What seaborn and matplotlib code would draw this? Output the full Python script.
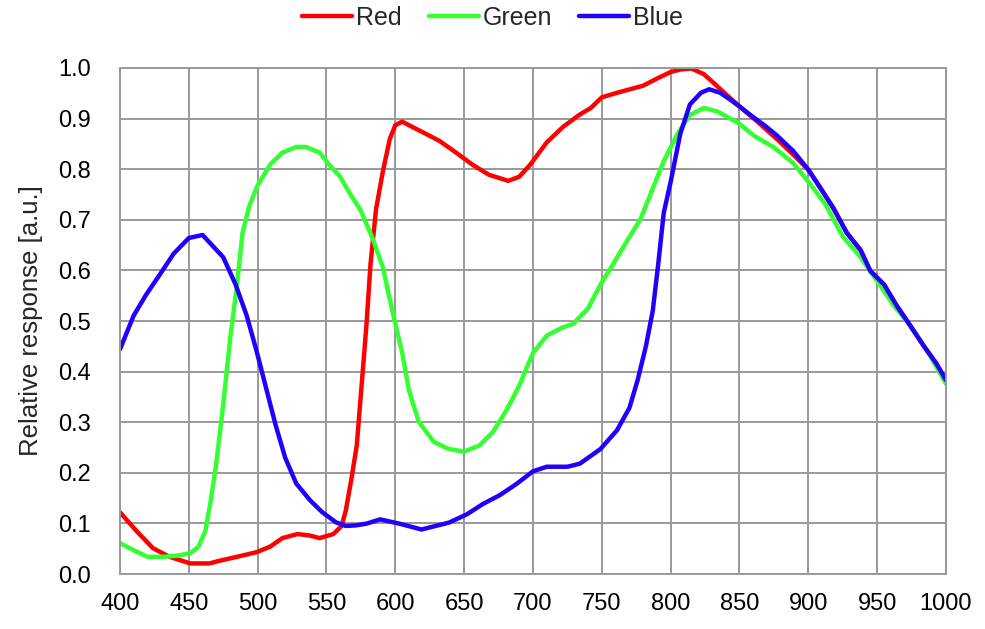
import matplotlib
matplotlib.use("Agg")
import matplotlib.pyplot as plt
import seaborn as sns
import pandas as pd

red_wl = [400,412,424,436,451,465,472,485,499,509,518,529,538,545,555,561,564,568,572,575,579,582,586,591,596,600,605,612,620,632,644,656,668,682,690,698,710,722,734,742,750,761,780,790,800,807,815,824,831,839,850,863,877,889,900,909,918,928,938,945,955,964,974,984,993,1000]
red_val = [0.122,0.085,0.051,0.034,0.021,0.021,0.026,0.034,0.043,0.054,0.071,0.079,0.076,0.071,0.079,0.095,0.125,0.186,0.254,0.355,0.491,0.613,0.721,0.796,0.860,0.887,0.894,0.884,0.873,0.856,0.833,0.809,0.789,0.777,0.785,0.809,0.853,0.884,0.908,0.921,0.942,0.951,0.965,0.979,0.992,0.997,0.999,0.988,0.971,0.951,0.924,0.894,0.860,0.829,0.799,0.762,0.724,0.674,0.640,0.599,0.572,0.531,0.491,0.450,0.416,0.383]

green_wl = [400,410,420,431,441,451,457,462,466,470,475,480,485,489,494,500,509,518,528,535,545,552,560,567,575,584,591,598,605,610,617,628,639,650,661,671,681,690,700,710,721,729,740,749,759,768,778,785,795,805,814,824,834,850,860,875,889,901,913,925,938,950,962,974,986,1000]
green_val = [0.061,0.047,0.034,0.034,0.036,0.041,0.054,0.085,0.146,0.220,0.335,0.464,0.572,0.674,0.728,0.768,0.809,0.833,0.844,0.844,0.833,0.809,0.785,0.752,0.718,0.660,0.606,0.518,0.437,0.362,0.301,0.261,0.247,0.242,0.254,0.281,0.325,0.372,0.437,0.471,0.487,0.494,0.525,0.572,0.616,0.657,0.701,0.748,0.816,0.870,0.907,0.921,0.914,0.890,0.867,0.843,0.812,0.772,0.728,0.667,0.626,0.579,0.531,0.491,0.443,0.376]

blue_wl = [400,410,419,429,439,450,460,475,484,492,499,506,513,520,528,538,547,557,564,571,579,589,603,619,639,652,664,676,688,700,710,725,734,749,761,770,776,782,787,791,795,800,807,814,822,828,836,843,850,858,868,877,889,900,909,918,928,938,945,955,964,974,984,993,1000]
blue_val = [0.444,0.511,0.552,0.592,0.633,0.664,0.670,0.626,0.572,0.511,0.443,0.369,0.295,0.230,0.179,0.146,0.122,0.102,0.095,0.096,0.0995,0.108,0.0995,0.088,0.1016,0.118,0.139,0.156,0.178,0.203,0.212,0.212,0.218,0.247,0.284,0.328,0.383,0.450,0.520,0.613,0.714,0.775,0.870,0.928,0.951,0.958,0.951,0.938,0.924,0.907,0.887,0.867,0.836,0.799,0.762,0.724,0.674,0.640,0.599,0.572,0.531,0.491,0.450,0.416,0.383]

series_names = ["Red", "Green", "Blue"]
colors = {"Red": "#ff0000", "Green": "#33ff33", "Blue": "#1f00ff"}

x_ticks = list(range(400, 1001, 50))
y_ticks = [0.0, 0.1, 0.2, 0.3, 0.4, 0.5, 0.6, 0.7, 0.8, 0.9, 1.0]

df = pd.concat([
    pd.DataFrame({"wl": red_wl, "val": red_val, "ch": "Red"}),
    pd.DataFrame({"wl": green_wl, "val": green_val, "ch": "Green"}),
    pd.DataFrame({"wl": blue_wl, "val": blue_val, "ch": "Blue"}),
], ignore_index=True)

sns.set_theme(style="white")
plt.rcParams["font.family"] = ["Liberation Sans", "DejaVu Sans"]

fig, ax = plt.subplots(figsize=(9.85, 6.29), dpi=100)
fig.subplots_adjust(left=0.1218, right=0.9604, top=0.8919, bottom=0.0874)

sns.lineplot(data=df, x="wl", y="val", hue="ch", hue_order=series_names,
             palette=colors, linewidth=3.2, sort=False, estimator=None,
             ax=ax, legend=True)

ax.set_xlim(400, 1000)
ax.set_ylim(0, 1.0)
ax.set_xticks(x_ticks)
ax.set_yticks(y_ticks)
ax.set_yticklabels([f"{v:.1f}" for v in y_ticks])
ax.tick_params(axis="both", labelsize=17, length=0, colors="black")
ax.tick_params(axis="y", pad=21)
ax.tick_params(axis="x", pad=14)
ax.grid(True, color="#999999", linewidth=1.4)
for s in ax.spines.values():
    s.set_color("#999999")
    s.set_linewidth(1.4)
ax.set_axisbelow(True)
ax.set_xlabel("")
ax.set_ylabel("Relative response [a.u.]", fontsize=18.5, labelpad=11)

handles, labels = ax.get_legend_handles_labels()
ax.get_legend().remove()
fig.legend(handles, labels, loc="upper center", bbox_to_anchor=(0.5, 1.026),
           ncol=3, frameon=False, fontsize=18, handlelength=2.0,
           columnspacing=1.1, handletextpad=0.15)

fig.savefig("out.png", dpi=100)
